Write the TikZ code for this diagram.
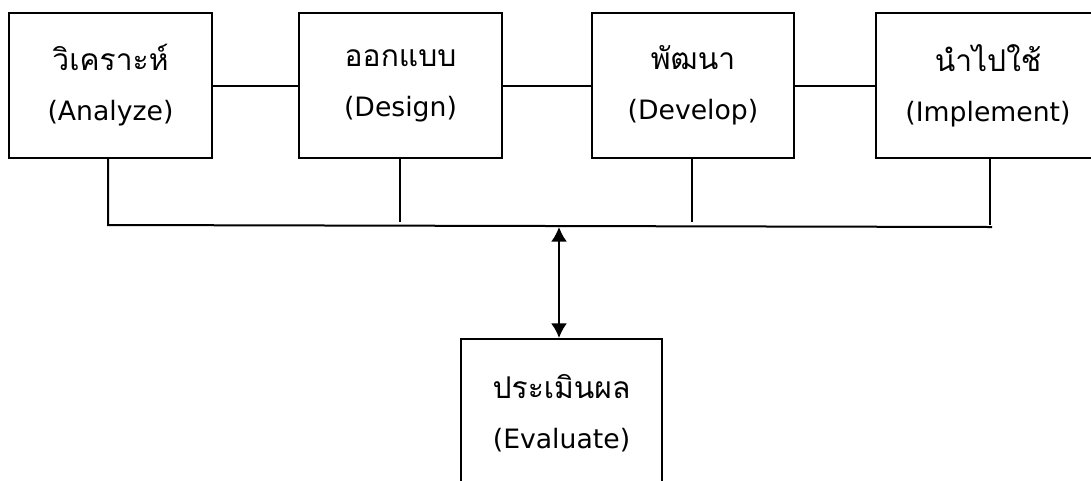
\documentclass[tikz,border=0pt]{standalone}
\usepackage{fontspec}
\setmainfont{DejaVu Sans}
\newfontfamily\thaifont[Script=Thai]{Loma}
\usetikzlibrary{arrows.meta}
\tikzset{
  stagebox/.style={draw=black, line width=1.5pt, rectangle, align=center, inner sep=0pt,
    minimum height=145*0.75pt, font=\fontsize{20}{37.5}\selectfont},
  link/.style={draw=black, line width=1.5pt},
  twoway/.style={link, {Latex[length=11pt,width=12pt]}-{Latex[length=11pt,width=12pt]}}
}
\newcommand{\stagelabel}[2]{{\fontsize{22.5}{37.5}\selectfont\thaifont #1}\\#2}
\begin{document}
\begin{tikzpicture}[x=0.75pt,y=-0.75pt]
\useasboundingbox (0,0) rectangle (1091,480);
\node[stagebox, minimum width=203*0.75pt] (an) at (110.5,85.5) {\stagelabel{วิเคราะห์}{(Analyze)}};
\node[stagebox, minimum width=203*0.75pt] (de) at (400.5,85.5) {\stagelabel{ออกแบบ}{(Design)}};
\node[stagebox, minimum width=202*0.75pt] (dv) at (693,85.5) {\stagelabel{พัฒนา}{(Develop)}};
\node[stagebox, minimum width=224*0.75pt] (im) at (988,85.5) {\stagelabel{นำไปใช้}{(Implement)}};
\node[stagebox, minimum width=201*0.75pt, minimum height=148*0.75pt] (ev) at (561.5,413) {\stagelabel{ประเมินผล}{(Evaluate)}};
\coordinate (busL) at (108,225);
\coordinate (busR) at (992,227);
\coordinate (j2) at (400,222);
\coordinate (j3) at (692,222);
\coordinate (j4) at (990,225);
\coordinate (arrTop) at (559,227);
\path[link] (an) -- (de);
\path[link] (de) -- (dv);
\path[link] (dv) -- (im);
\path[link] (an.south -| busL) -- (busL) -- (busR);
\path[link] (de.south -| j2) -- (j2);
\path[link] (dv.south -| j3) -- (j3);
\path[link] (im.south -| j4) -- (j4);
\path[twoway] (arrTop) -- (ev.north -| arrTop);
\end{tikzpicture}
\end{document}
